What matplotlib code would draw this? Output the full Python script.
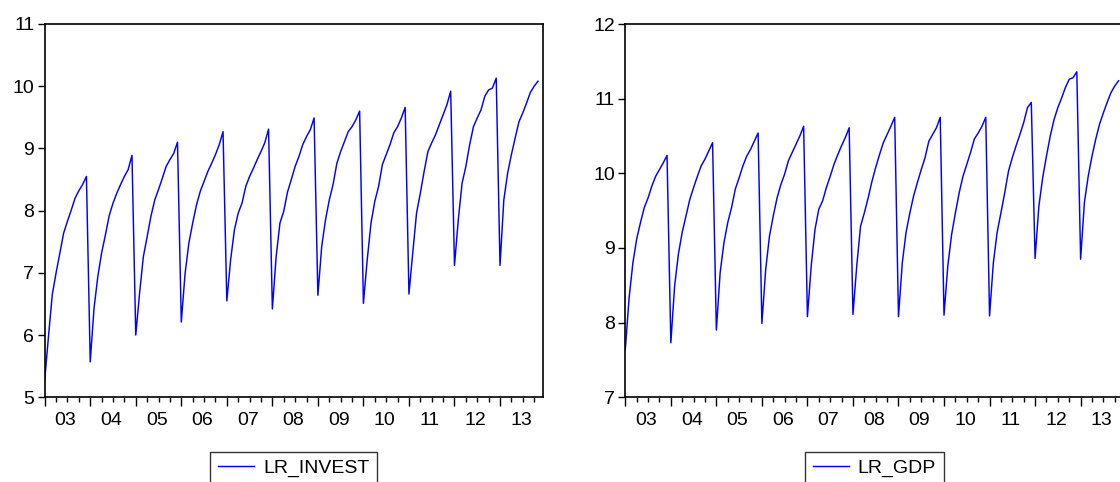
import matplotlib
matplotlib.use("Agg")
import matplotlib.pyplot as plt
import numpy as np

plt.rcParams['font.family'] = ['Liberation Sans', 'DejaVu Sans']

years = ["03", "04", "05", "06", "07", "08", "09", "10", "11", "12", "13"]

lr_invest = [
    5.28, 5.98, 6.65, 7.00, 7.32, 7.64, 7.83, 8.01, 8.20, 8.32, 8.42, 8.55,
    5.57, 6.43, 6.94, 7.32, 7.61, 7.92, 8.12, 8.28, 8.42, 8.55, 8.66, 8.89,
    6.00, 6.67, 7.26, 7.58, 7.91, 8.17, 8.34, 8.52, 8.71, 8.82, 8.92, 9.10,
    6.21, 6.99, 7.48, 7.80, 8.09, 8.31, 8.47, 8.63, 8.76, 8.90, 9.06, 9.27,
    6.55, 7.21, 7.69, 7.96, 8.12, 8.39, 8.55, 8.68, 8.82, 8.95, 9.09, 9.31,
    6.42, 7.26, 7.80, 7.99, 8.30, 8.50, 8.71, 8.87, 9.06, 9.19, 9.30, 9.49,
    6.64, 7.42, 7.85, 8.17, 8.42, 8.76, 8.95, 9.11, 9.27, 9.35, 9.46, 9.60,
    6.51, 7.21, 7.80, 8.15, 8.39, 8.74, 8.90, 9.06, 9.25, 9.35, 9.49, 9.66,
    6.66, 7.32, 7.96, 8.28, 8.63, 8.95, 9.09, 9.22, 9.38, 9.54, 9.70, 9.92,
    7.12, 7.85, 8.44, 8.71, 9.06, 9.35, 9.49, 9.62, 9.84, 9.94, 9.97, 10.13,
    7.12, 8.17, 8.60, 8.90, 9.17, 9.43, 9.57, 9.73, 9.90, 10.00, 10.08,
]

lr_gdp = [
    7.64, 8.33, 8.80, 9.12, 9.34, 9.54, 9.67, 9.83, 9.96, 10.05, 10.14, 10.24,
    7.73, 8.49, 8.92, 9.21, 9.43, 9.65, 9.81, 9.96, 10.10, 10.19, 10.30, 10.41,
    7.90, 8.67, 9.07, 9.34, 9.54, 9.79, 9.94, 10.10, 10.23, 10.32, 10.43, 10.54,
    7.99, 8.71, 9.16, 9.43, 9.67, 9.85, 9.99, 10.17, 10.28, 10.39, 10.50, 10.63,
    8.08, 8.76, 9.25, 9.52, 9.63, 9.81, 9.96, 10.12, 10.25, 10.37, 10.48, 10.61,
    8.11, 8.76, 9.29, 9.47, 9.67, 9.89, 10.08, 10.25, 10.41, 10.52, 10.63, 10.75,
    8.08, 8.80, 9.21, 9.47, 9.70, 9.88, 10.05, 10.21, 10.43, 10.52, 10.61, 10.75,
    8.10, 8.76, 9.18, 9.47, 9.74, 9.96, 10.12, 10.28, 10.46, 10.54, 10.63, 10.75,
    8.09, 8.80, 9.21, 9.47, 9.74, 10.03, 10.21, 10.37, 10.52, 10.68, 10.88, 10.95,
    8.86, 9.56, 9.94, 10.23, 10.50, 10.72, 10.88, 11.01, 11.15, 11.26, 11.28, 11.36,
    8.85, 9.61, 9.96, 10.23, 10.46, 10.66, 10.81, 10.95, 11.08, 11.17, 11.24,
]

W, H = 1120, 482
fig = plt.figure(figsize=(W / 100, H / 100), dpi=100)

FS = 14
ax_w = 498.0


def make_panel(left_px, values, ylim, yticks, label):
    ax = fig.add_axes([left_px / W, (H - 397.3) / H, ax_w / W, 373.3 / H])
    x = np.arange(len(values))
    ax.plot(x, values, color='#0000FF', lw=1.05, label=label)
    ax.set_xlim(0, 131.25)
    ax.set_ylim(*ylim)
    ax.set_yticks(yticks)
    ax.set_yticklabels([str(t) for t in yticks], fontsize=FS)
    ax.set_xticks(np.arange(0, 132, 12))
    ax.set_xticklabels([])
    ax.set_xticks(np.arange(0, 132, 3), minor=True)
    ax.tick_params(axis='x', which='major', length=6.5, width=1.0, direction='out')
    ax.tick_params(axis='x', which='minor', length=3.5, width=1.0, direction='out')
    ax.tick_params(axis='y', which='major', length=5, width=1.0, pad=2.5, direction='out')
    for s in ax.spines.values():
        s.set_linewidth(1.2)
        s.set_color('black')
    sec = ax.secondary_xaxis('bottom')
    sec.set_xticks(np.arange(len(years)) * 12 + 5.5)
    sec.set_xticklabels(years, fontsize=FS)
    sec.tick_params(length=0, pad=10.5)
    sec.spines['bottom'].set_visible(False)
    leg = ax.legend(loc='upper center', bbox_to_anchor=(0.5, -0.1457),
                    frameon=True, fancybox=False, edgecolor='black',
                    fontsize=FS, handlelength=1.85, handletextpad=0.45,
                    borderpad=0.4, borderaxespad=0)
    leg.get_frame().set_linewidth(1.0)
    return ax


make_panel(44.7, lr_invest, (5, 11), [5, 6, 7, 8, 9, 10, 11], 'LR_INVEST')
make_panel(625.3, lr_gdp, (7, 12), [7, 8, 9, 10, 11, 12], 'LR_GDP')

fig.savefig('out.png', dpi=100)
